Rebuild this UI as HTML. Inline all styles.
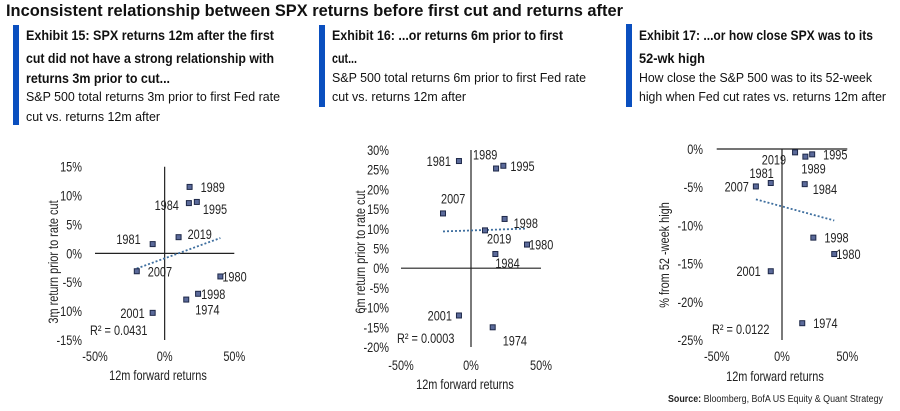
<!DOCTYPE html>
<html><head><meta charset="utf-8"><style>
html,body{margin:0;padding:0;background:#fff;}
svg{display:block;font-family:"Liberation Sans",Arial,sans-serif;}
</style></head><body>
<svg id="root" width="900" height="411" viewBox="0 0 900 411">
<text x="6" y="16" font-size="17" font-weight="bold" fill="#111" textLength="617" lengthAdjust="spacingAndGlyphs">Inconsistent relationship between SPX returns before first cut and returns after</text>

<rect x="13" y="25" width="6" height="100" fill="#0a4fbf"/>
<g fill="#111">
<text x="26" y="40" font-size="14" font-weight="bold" textLength="248" lengthAdjust="spacingAndGlyphs">Exhibit 15: SPX returns 12m after the first</text>
<text x="26" y="63" font-size="14" font-weight="bold" textLength="248" lengthAdjust="spacingAndGlyphs">cut did not have a strong relationship with</text>
<text x="26" y="83" font-size="14" font-weight="bold" textLength="144" lengthAdjust="spacingAndGlyphs">returns 3m prior to cut...</text>
<text x="26" y="101" font-size="13" textLength="254" lengthAdjust="spacingAndGlyphs">S&amp;P 500 total returns 3m prior to first Fed rate</text>
<text x="26" y="121" font-size="13" textLength="134" lengthAdjust="spacingAndGlyphs">cut vs. returns 12m after</text>
</g>

<rect x="319" y="25" width="6" height="82" fill="#0a4fbf"/>
<g fill="#111">
<text x="332" y="40" font-size="14" font-weight="bold" textLength="231" lengthAdjust="spacingAndGlyphs">Exhibit 16: ...or returns 6m prior to first</text>
<text x="332" y="63" font-size="14" font-weight="bold" textLength="25" lengthAdjust="spacingAndGlyphs">cut...</text>
<text x="332" y="82" font-size="13" textLength="254" lengthAdjust="spacingAndGlyphs">S&amp;P 500 total returns 6m prior to first Fed rate</text>
<text x="332" y="101" font-size="13" textLength="134" lengthAdjust="spacingAndGlyphs">cut vs. returns 12m after</text>
</g>

<rect x="626" y="24" width="6" height="83" fill="#0a4fbf"/>
<g fill="#111">
<text x="639" y="40" font-size="14" font-weight="bold" textLength="234" lengthAdjust="spacingAndGlyphs">Exhibit 17: ...or how close SPX was to its</text>
<text x="639" y="63" font-size="14" font-weight="bold" textLength="66" lengthAdjust="spacingAndGlyphs">52-wk high</text>
<text x="639" y="82" font-size="13" textLength="233" lengthAdjust="spacingAndGlyphs">How close the S&amp;P 500 was to its 52-week</text>
<text x="639" y="101" font-size="13" textLength="247" lengthAdjust="spacingAndGlyphs">high when Fed cut rates vs. returns 12m after</text>
</g>

<text x="668" y="402" font-size="10" fill="#222" textLength="215" lengthAdjust="spacingAndGlyphs"><tspan font-weight="bold">Source:</tspan> Bloomberg, BofA US Equity &amp; Quant Strategy</text>
</svg>
<script>
const years = ["1974","1980","1981","1984","1989","1995","1998","2001","2007","2019"];
const fwd12m = [15.5, 40, -8.6, 17.4, 17.9, 23.1, 24, -8.6, -20, 10];
const ret3m = [-8.0, -4.0, 1.6, 8.7, 11.5, 8.9, -7.0, -10.3, -3.1, 2.8];
const ret6m = [-15, 6, 27.2, 3.6, 25.3, 26, 12.5, -12, 13.9, 9.6];
const pctFromHigh = [-22.8, -13.75, -4.45, -4.6, -1.0, -0.7, -11.6, -16, -4.9, -0.44];
const xTicks = [-50, 0, 50];
const yTicks1 = [15, 10, 5, 0, -5, -10, -15];
const yTicks2 = [30, 25, 20, 15, 10, 5, 0, -5, -10, -15, -20];
const yTicks3 = [0, -5, -10, -15, -20, -25];
const r2Labels = ["R\u00B2 = 0.0431", "R\u00B2 = 0.0003", "R\u00B2 = 0.0122"];

const NS = "http://www.w3.org/2000/svg";
const root = document.getElementById("root");
const SQ = 0.78;
const FS = 14;
function mk(tag, attrs, parent){const e=document.createElementNS(NS,tag);for(const k in attrs)e.setAttribute(k,attrs[k]);(parent||root).appendChild(e);return e;}
function squeeze(t){const w=t.getComputedTextLength();t.setAttribute("textLength",(w*SQ).toFixed(1));t.setAttribute("lengthAdjust","spacingAndGlyphs");}

const off1 = {"1974":[9,10,"start"],"1980":[2,0,"start"],"1981":[-12,-5,"end"],"1984":[-10,2,"end"],"1989":[11,0,"start"],"1995":[6,7,"start"],"1998":[3,0,"start"],"2001":[-8,0,"end"],"2007":[11,0,"start"],"2019":[9,-3,"start"]};
const off2 = {"1974":[10,13,"start"],"1980":[2,0,"start"],"1981":[-8,0,"end"],"1984":[0,9,"start"],"1989":[-23,-14,"start"],"1995":[7,0,"start"],"1998":[9,4,"start"],"2001":[-7,0,"end"],"2007":[-2,-15,"start"],"2019":[2,8,"start"]};
const off3 = {"1974":[11,0,"start"],"1980":[2,0,"start"],"1981":[3,-10,"end"],"1984":[8,5,"start"],"1989":[-4,12,"start"],"1995":[11,0,"start"],"1998":[11,0,"start"],"2001":[-10,0,"end"],"2007":[-7,0,"end"],"2019":[-9,7,"end"]};

const charts = [
 {id:"chart-3m", ys:ret3m, yT:yTicks1, x0:95, x1:234.3, yTop:166.7, yBot:340, yMax:15, yMin:-15, tickRight:82, xLabY:361, xTitle:[158,380], yTitleX:58, yTitleY:262, yTitleText:"3m return prior to rate cut", r2:[90,335], off:off1},
 {id:"chart-6m", ys:ret6m, yT:yTicks2, x0:401, x1:541, yTop:150, yBot:347, yMax:30, yMin:-20, tickRight:389, xLabY:370, xTitle:[465,389], yTitleX:365, yTitleY:252, yTitleText:"6m return prior to rate cut", r2:[397,343], off:off2},
 {id:"chart-52wk", ys:pctFromHigh, yT:yTicks3, x0:716.7, x1:847.3, yTop:149, yBot:340, yMax:0, yMin:-25, tickRight:703, xLabY:361, xTitle:[775,381], yTitleX:669, yTitleY:255, yTitleText:"% from 52  -week high", r2:[712,334], off:off3}
];

charts.forEach((c,ci)=>{
 const g = mk("g",{});
 
 
 const sx = v => c.x0 + (v+50)/100*(c.x1-c.x0);
 const sy = v => c.yTop + (c.yMax-v)/(c.yMax-c.yMin)*(c.yBot-c.yTop);
 const ya = mk("line",{x1:sx(0),x2:sx(0),y1:c.yTop,y2:c.yBot,stroke:"#222","stroke-width":1.2},g);
 
 
 const xa = mk("line",{x1:sx(-50),x2:sx(50),y1:sy(0),y2:sy(0),stroke:"#222","stroke-width":1.2},g);
 
 
 c.yT.forEach(t=>{
  const tx = mk("text",{x:c.tickRight,y:sy(t)+5,"font-size":FS,"text-anchor":"end",fill:"#222"},g);
  tx.textContent = t+"%";
  
  
  squeeze(tx);
 });
 xTicks.forEach(t=>{
  const tx = mk("text",{x:sx(t),y:c.xLabY,"font-size":FS,"text-anchor":"middle",fill:"#222"},g);
  tx.textContent = t+"%";
  
  
  squeeze(tx);
 });
 const xt = mk("text",{x:c.xTitle[0],y:c.xTitle[1],"font-size":FS,"text-anchor":"middle",fill:"#222"},g);
 xt.textContent = "12m forward returns";
 
 
 squeeze(xt);
 const yt = mk("text",{x:0,y:0,"font-size":FS,"text-anchor":"middle",fill:"#222",transform:`translate(${c.yTitleX},${c.yTitleY}) rotate(-90)`},g);
 yt.textContent = c.yTitleText;
 
 
 squeeze(yt);
 const n = fwd12m.length;
 const mx = fwd12m.reduce((a,b)=>a+b,0)/n, my = c.ys.reduce((a,b)=>a+b,0)/n;
 let sxy=0,sxx=0; for(let i=0;i<n;i++){sxy+=(fwd12m[i]-mx)*(c.ys[i]-my);sxx+=(fwd12m[i]-mx)**2;}
 const b = sxy/sxx, a = my-b*mx;
 const xmin = Math.min(...fwd12m), xmax = Math.max(...fwd12m);
 const tl = mk("line",{x1:sx(xmin),y1:sy(a+b*xmin),x2:sx(xmax),y2:sy(a+b*xmax),stroke:"#3f6f9f","stroke-width":1.8,"stroke-dasharray":"2 2"},g);
 
 
 years.forEach((yr,i)=>{
  const px = sx(fwd12m[i]), py = sy(c.ys[i]);
  const r = mk("rect",{x:px-2.5,y:py-2.5,width:5,height:5,fill:"#5b6a9a",stroke:"#1e2848","stroke-width":1},g);
  
  
  const o = c.off[yr];
  const lb = mk("text",{x:px+o[0],y:py+o[1]+5,"font-size":FS,"text-anchor":o[2],fill:"#222"},g);
  lb.textContent = yr;
  
  
  squeeze(lb);
 });
 const r2 = mk("text",{x:c.r2[0],y:c.r2[1],"font-size":FS,fill:"#222"},g);
 r2.textContent = r2Labels[ci];
 
 
 squeeze(r2);
});
</script>
</body></html>
